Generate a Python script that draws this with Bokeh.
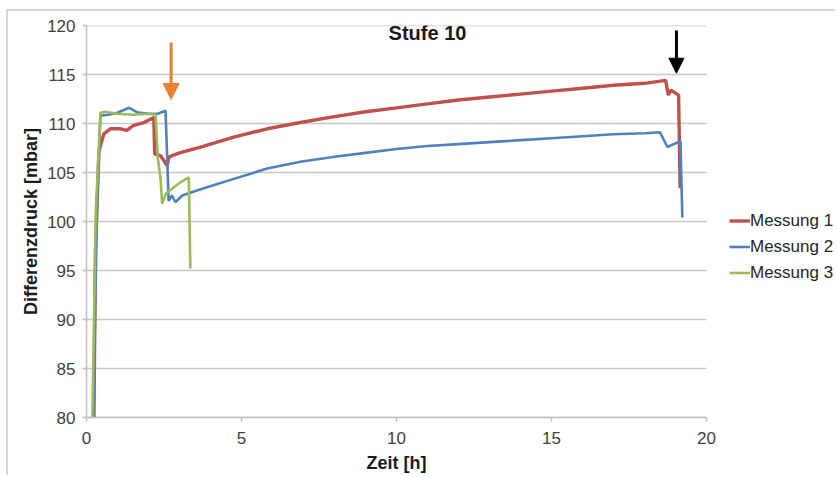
from bokeh.plotting import figure
from bokeh.models import Label, Arrow, NormalHead, FixedTicker, Range1d, Title
from bokeh.embed import file_html
from bokeh.resources import INLINE

# ---- data ----
m1_t = [0.24, 0.29, 0.40, 0.56, 0.77, 1.10, 1.30, 1.52, 1.85, 2.17, 2.20, 2.39, 2.50, 2.60,
        2.66, 3.00, 3.68, 4.75, 5.83, 6.90, 8.00, 9.00, 10.0, 11.0, 12.0, 13.0, 14.0, 15.0,
        16.0, 17.0, 18.0, 18.68, 18.77, 18.85, 19.0, 19.1, 19.15]
m1_v = [80.0, 97.0, 107.2, 108.95, 109.46, 109.46, 109.3, 109.8, 110.1, 110.6, 106.9, 106.7,
        106.2, 105.7, 106.6, 107.0, 107.6, 108.6, 109.46, 110.1, 110.7, 111.2, 111.6, 112.0,
        112.4, 112.7, 113.0, 113.3, 113.6, 113.9, 114.1, 114.4, 112.9, 113.4, 113.1, 112.9, 103.4]

m2_t = [0.22, 0.34, 0.45, 0.70, 1.00, 1.37, 1.63, 2.00, 2.30, 2.55, 2.65, 2.76, 2.87, 3.09,
        3.68, 4.75, 5.83, 6.90, 8.00, 9.00, 10.0, 11.0, 12.0, 13.0, 14.0, 15.0, 16.0, 17.0,
        18.0, 18.50, 18.74, 19.16, 19.22]
m2_v = [80.0, 102.0, 110.8, 110.9, 111.1, 111.6, 111.15, 111.0, 111.0, 111.3, 102.1, 102.65,
        101.97, 102.65, 103.3, 104.35, 105.4, 106.1, 106.6, 107.0, 107.4, 107.7, 107.9, 108.1,
        108.3, 108.5, 108.7, 108.9, 109.0, 109.1, 107.6, 108.2, 100.4]

m3_t = [0.19, 0.30, 0.45, 0.60, 1.00, 1.50, 2.00, 2.23, 2.30, 2.39, 2.44, 2.55, 2.82, 3.03,
        3.30, 3.35]
m3_v = [80.0, 101.0, 111.1, 111.2, 111.0, 110.9, 111.0, 110.9, 106.5, 104.35, 101.8, 102.8,
        103.5, 104.0, 104.5, 95.2]

series_names = ["Messung 1", "Messung 2", "Messung 3"]
series_colors = ["#C0504D", "#4F81BD", "#9BBB59"]

x_ticks = [0, 5, 10, 15, 20]
y_ticks = [80, 85, 90, 95, 100, 105, 110, 115, 120]

title_text = "Stufe 10"
x_label = "Zeit [h]"
y_label = "Differenzdruck [mbar]"

# arrows: (x, y_start, y_end)
arrow_orange = (2.73, 118.27, 112.45)
arrow_black = (19.03, 119.49, 115.13)

FONT = "Liberation Sans"

W, H = 829, 466
LEFT, TOP, BOTTOM = 78, 14, 60
PLOT_W = 620  # pixel width of the 0..20 h span
frame_w = W - LEFT
x_max = x_ticks[-1] * frame_w / PLOT_W

p = figure(width=W, height=H, output_backend="svg", toolbar_location=None,
           x_range=Range1d(0, x_max), y_range=Range1d(y_ticks[0], y_ticks[-1]), title=None,
           min_border_left=LEFT, min_border_right=0, min_border_top=TOP,
           min_border_bottom=BOTTOM)
p.styles = {"position": "relative", "left": "6px", "top": "9px",
            "border-left": "2px solid #d6d6d6", "border-top": "2px solid #d6d6d6"}
p.outline_line_color = None
p.background_fill_color = "white"
p.border_fill_color = "white"

# horizontal gridlines limited to the 0..20 h span
p.xgrid.grid_line_color = None
p.ygrid.grid_line_color = None
p.segment(x0=[x_ticks[0]] * len(y_ticks), x1=[x_ticks[-1]] * len(y_ticks),
          y0=y_ticks, y1=y_ticks, line_color="#c8c8c8", line_width=1.5)

widths = [3.4, 2.6, 2.6]
for t, v, name, col, w in zip([m1_t, m2_t, m3_t], [m1_v, m2_v, m3_v], series_names,
                              series_colors, widths):
    p.line(t, v, line_color=col, line_width=w, legend_label=name)

# axes
for ax in (p.xaxis, p.yaxis):
    ax.axis_line_color = "#bfbfbf"
    ax.axis_line_width = 1.5
    ax.major_tick_line_color = "#bfbfbf"
    ax.major_tick_line_width = 1.5
    ax.major_tick_out = 4
    ax.major_tick_in = 0
    ax.minor_tick_line_color = None
    ax.major_label_text_font = FONT
    ax.major_label_text_font_size = "17px"
    ax.major_label_text_color = "#404040"
    ax.axis_label_text_font = FONT
    ax.axis_label_text_font_size = "18px"
    ax.axis_label_text_font_style = "bold"
    ax.axis_label_text_color = "#1a1a1a"

p.xaxis.ticker = FixedTicker(ticks=x_ticks)
p.yaxis.ticker = FixedTicker(ticks=y_ticks)
p.xaxis.bounds = (x_ticks[0], x_ticks[-1])
p.yaxis.axis_label = y_label
p.xaxis.major_label_standoff = 10
p.yaxis.major_label_standoff = 7
p.yaxis.axis_label_standoff = 3

# x-axis label as a title below, centred under the 0..20 h span
p.add_layout(Title(text=x_label, align="left", offset=280, standoff=8, text_font=FONT,
                   text_font_size="18px", text_font_style="bold", text_color="#1a1a1a"),
             "below")

# chart title inside plot area
p.add_layout(Label(x=11.0, y=119.2, text=title_text, text_font=FONT, text_font_size="20px",
                   text_font_style="bold", text_align="center", text_baseline="middle",
                   text_color="#1a1a1a"))

# arrows
p.add_layout(Arrow(x_start=arrow_orange[0], y_start=arrow_orange[1], x_end=arrow_orange[0],
                   y_end=arrow_orange[2], line_color="#ED7D31", line_width=3,
                   end=NormalHead(size=16, fill_color="#ED7D31", line_color="#ED7D31")))
p.add_layout(Arrow(x_start=arrow_black[0], y_start=arrow_black[1], x_end=arrow_black[0],
                   y_end=arrow_black[2], line_color="black", line_width=3,
                   end=NormalHead(size=15, fill_color="black", line_color="black")))

# legend
lg = p.legend[0]
lg.location = (643, 132)
lg.border_line_color = None
lg.background_fill_alpha = 0
lg.padding = 0
lg.margin = 0
lg.spacing = 1
lg.glyph_width = 21
lg.glyph_height = 25
lg.label_height = 25
lg.label_standoff = 0
lg.label_text_font = FONT
lg.label_text_font_size = "17px"
lg.label_text_color = "#262626"

open("out.html", "w").write(file_html(p, INLINE))
